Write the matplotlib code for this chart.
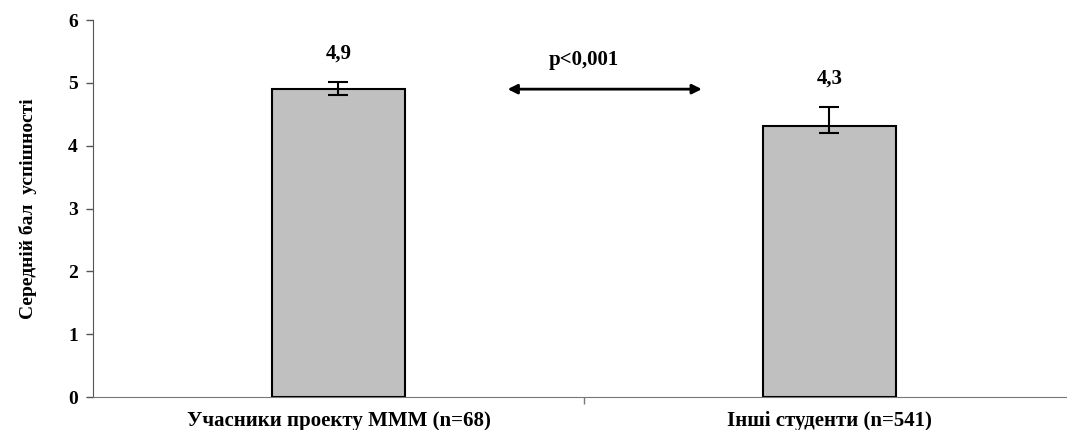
import matplotlib.pyplot as plt
import numpy as np

plt.rcParams['font.family'] = ['Liberation Serif', 'DejaVu Serif']
plt.rcParams['font.weight'] = 'bold'

categories = ['Учасники проекту МММ (n=68)', 'Інші студенти (n=541)']
means = [4.9, 4.32]
err_low = [0.09, 0.11]
err_high = [0.11, 0.29]
value_labels = ['4,9', '4,3']
p_text = 'p<0,001'

fig = plt.figure(figsize=(10.67, 4.3), dpi=100)
ax = fig.add_axes([0.0872, 0.0767, 0.920, 0.8767])

x = np.arange(len(categories))
ax.bar(x, means, width=0.27, color='#C0C0C0', edgecolor='black', linewidth=1.5, zorder=2)
ax.errorbar(x, means, yerr=[err_low, err_high], fmt='none', ecolor='black',
            elinewidth=1.5, capsize=7, capthick=1.5, zorder=3)

for xi, m, eh, lab in zip(x, means, err_high, value_labels):
    ax.text(xi, m + eh + 0.3, lab, ha='center', va='bottom', fontsize=15, fontweight='bold')

ax.annotate('', xy=(0.339, means[0]), xytext=(0.746, means[0]),
            arrowprops=dict(arrowstyle='<|-|>', color='black', lw=2, mutation_scale=14))
ax.text(0.5, 5.2, p_text, ha='center', va='bottom', fontsize=15, fontweight='bold')

ax.set_xlim(-0.5, 1.5)
ax.set_ylim(0, 6)
ax.set_yticks(range(0, 7))
ax.set_xticks([0.5])
ax.set_xticklabels([''])
ax.tick_params(axis='y', direction='out', length=5, width=1, labelsize=14, color='#555555', pad=6)
ax.tick_params(axis='x', direction='out', length=5, width=1, color='#777777')
for xi, c in zip(x, categories):
    ax.text(xi, -0.22, c, ha='center', va='top', fontsize=15, fontweight='bold')

for s in ['top', 'right']:
    ax.spines[s].set_visible(False)
ax.spines['left'].set_color('#555555')
ax.spines['bottom'].set_color('#777777')

ax.set_ylabel('Середній бал  успішності', fontsize=14, fontweight='bold', labelpad=22)

fig.savefig('out.png', dpi=100)
